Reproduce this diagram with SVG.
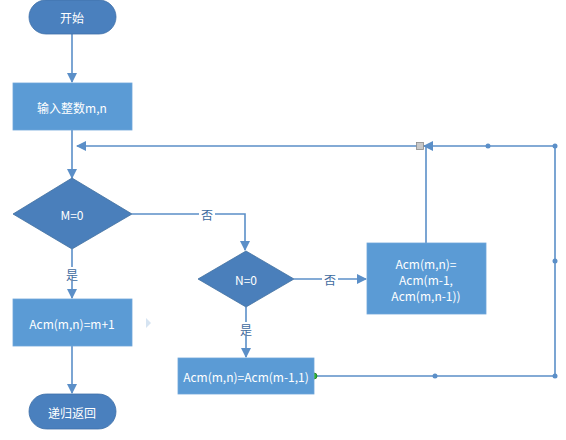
<svg xmlns="http://www.w3.org/2000/svg" width="566" height="440" viewBox="0 0 566 440">
<style>
.term{fill:#4a80be;stroke:#3f70a8;stroke-width:0.8}
.proc{fill:#5b9bd5;stroke:#6fa6d9;stroke-width:0.8}
.dec{fill:#4a7fbb;stroke:#41709f;stroke-width:0.8}
.t{font-family:"Noto Sans CJK SC","Liberation Sans",sans-serif;font-size:12px;fill:#ffffff;text-anchor:middle;dominant-baseline:central}
.lbl{font-family:"Noto Sans CJK SC",sans-serif;font-size:12px;fill:#3d6a9e;text-anchor:middle;dominant-baseline:central}
.ln{fill:none;stroke:#5b8fc8;stroke-width:1.6}
.dot{fill:#5b8fc8}
</style>
<defs>
<marker id="ah" viewBox="0 0 10 10" refX="9" refY="5" markerWidth="7" markerHeight="7" markerUnits="userSpaceOnUse" orient="auto">
<path d="M0,0 L10,5 L0,10 z" fill="#5b8fc8"/>
</marker>
<marker id="ahL" viewBox="0 0 10 10" refX="9" refY="5" markerWidth="10" markerHeight="10" markerUnits="userSpaceOnUse" orient="auto">
<path d="M0,0 L10,5 L0,10 z" fill="#5b8fc8"/>
</marker>
</defs>
<rect width="566" height="440" fill="#ffffff"/>
<g id="connectors">
<path class="ln" d="M72,34 V82" marker-end="url(#ahL)"/>
<path class="ln" d="M72,130 V178" marker-end="url(#ahL)"/>
<path class="ln" d="M132,214 H245 V250" marker-end="url(#ahL)"/>
<path class="ln" d="M72,249 V298" marker-end="url(#ahL)"/>
<path class="ln" d="M72,346 V393" marker-end="url(#ahL)"/>
<path class="ln" d="M294,279 H366" marker-end="url(#ahL)"/>
<path class="ln" d="M246,307 V357" marker-end="url(#ahL)"/>
<path class="ln" d="M426,243 V146 H77" marker-end="url(#ahL)"/>
<path class="ln" d="M314,376 H555 V146 H424" marker-end="url(#ahL)"/>
<rect x="416.5" y="142.5" width="7" height="7" fill="#c8c8c8" stroke="#8a8a8a" stroke-width="0.8"/>
<circle class="dot" cx="488" cy="146" r="2.5"/>
<circle class="dot" cx="555" cy="146" r="2.5"/>
<circle class="dot" cx="555" cy="261" r="2.5"/>
<circle class="dot" cx="555" cy="376" r="2.5"/>
<circle class="dot" cx="435" cy="376" r="2.5"/>
<circle cx="314" cy="376" r="3" fill="#2fb82f" stroke="#1d7a1d" stroke-width="0.8"/>
<rect x="199" y="208" width="16" height="14" fill="#ffffff"/>
<text class="lbl" x="207" y="214">否</text>
<rect x="322" y="272" width="16" height="14" fill="#ffffff"/>
<text class="lbl" x="330" y="279">否</text>
<rect x="64" y="267" width="16" height="14" fill="#ffffff"/>
<text class="lbl" x="72" y="274">是</text>
<rect x="238" y="322" width="16" height="14" fill="#ffffff"/>
<text class="lbl" x="246" y="329">是</text>
<path d="M146,318 L151,323 L146,328 z" fill="#d6e4f2"/>
</g>
<g id="start">
<rect class="term" x="29" y="0" width="87" height="34" rx="17"/>
<text class="t" x="72" y="17">开始</text>
</g>
<g id="input">
<rect class="proc" x="13" y="83" width="119" height="47"/>
<text class="t" x="72" y="107">输入整数m,n</text>
</g>
<g id="m0">
<polygon class="dec" points="72,178 132,214 72,249 13,214"/>
<text class="t" x="72" y="214">M=0</text>
</g>
<g id="mplus">
<rect class="proc" x="13" y="299" width="119" height="47"/>
<text class="t" x="72" y="323">Acm(m,n)=m+1</text>
</g>
<g id="ret">
<rect class="term" x="29" y="394" width="87" height="35" rx="17.5"/>
<text class="t" x="72" y="412">递归返回</text>
</g>
<g id="n0">
<polygon class="dec" points="246,251 294,279 246,307 198,279"/>
<text class="t" x="246" y="279">N=0</text>
</g>
<g id="acm1">
<rect class="proc" x="178" y="358" width="136" height="36"/>
<text class="t" x="246" y="376">Acm(m,n)=Acm(m-1,1)</text>
</g>
<g id="acm2">
<rect class="proc" x="367" y="243" width="119" height="71"/>
<text class="t" x="426" y="263">Acm(m,n)=</text>
<text class="t" x="426" y="279">Acm(m-1,</text>
<text class="t" x="426" y="295">Acm(m,n-1))</text>
</g>
</svg>
